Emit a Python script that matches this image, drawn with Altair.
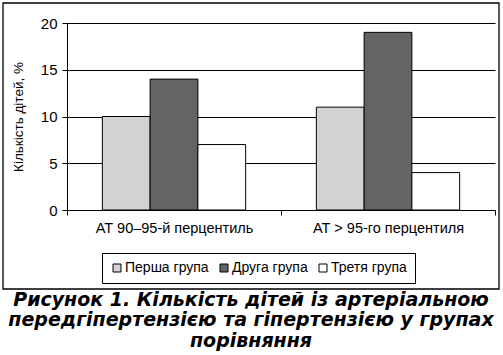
import altair as alt
import pandas as pd

categories = ["АТ 90–95-й перцентиль", "АТ > 95-го перцентиля"]
groups = ["Перша група", "Друга група", "Третя група"]
values_first = [10, 11]
values_second = [14, 19]
values_third = [7, 4]
colors = ["#d1d2d4", "#636466", "#ffffff"]
caption = ["Рисунок 1. Кількість дітей із артеріальною",
           "передгіпертензією та гіпертензією у групах",
           "порівняння"]

rows = []
for i, c in enumerate(categories):
    for g, vals in zip(groups, [values_first, values_second, values_third]):
        rows.append({"cat": c, "group": g, "value": vals[i]})
df = pd.DataFrame(rows)

FONT = "Liberation Sans"

bars = alt.Chart(df).mark_bar(stroke="black", strokeWidth=1).encode(
    x=alt.X("cat:N", sort=categories, title=None,
            scale=alt.Scale(paddingInner=0, paddingOuter=0),
            axis=alt.Axis(labelAngle=0, tickBand="extent", domainColor="black",
                          tickColor="black", tickSize=5, labelFontSize=14.5,
                          labelFont=FONT, labelColor="black", labelPadding=6)),
    xOffset=alt.XOffset("group:N", sort=groups,
                        scale=alt.Scale(paddingInner=0, paddingOuter=0.74)),
    y=alt.Y("value:Q", title="Кількість дітей, %",
            scale=alt.Scale(domain=[0, 20]),
            axis=alt.Axis(values=[0, 5, 10, 15, 20], domainColor="black",
                          tickColor="black", tickSize=5, gridColor="black",
                          gridOpacity=1, labelFontSize=15, labelFont=FONT,
                          labelColor="black", labelPadding=5,
                          titleFont=FONT, titleFontSize=13.5, titleFontWeight="normal",
                          titleColor="black", titlePadding=15)),
    fill=alt.Fill("group:N", sort=groups, title=None,
                  scale=alt.Scale(domain=groups, range=colors),
                  legend=alt.Legend(orient="none", legendX=35, legendY=230,
                                    direction="horizontal", strokeColor="black",
                                    padding=8, symbolType="square", symbolSize=64,
                                    symbolStrokeColor="black", symbolStrokeWidth=1,
                                    labelFont=FONT, labelFontSize=14,
                                    labelColor="black", columnPadding=8,
                                    labelOffset=1)),
)

frame = alt.Chart(pd.DataFrame({"a": [0]})).mark_rect(
    fill=None, stroke="black", strokeWidth=1.3).encode(
    x=alt.value(-64), x2=alt.value(432), y=alt.value(-20), y2=alt.value(266))

chart = alt.layer(bars, frame).properties(
    width=428, height=187,
    autosize=alt.AutoSizeParams(type="none"),
    padding={"left": 67, "top": 23, "right": 8, "bottom": 145},
    title=alt.TitleParams(text=caption, orient="bottom", anchor="middle",
                          font="DejaVu Sans", fontSize=19, fontWeight="bold",
                          fontStyle="italic", color="black", lineHeight=20.5,
                          offset=1, dx=-30),
).configure_view(stroke=None).configure_axis(grid=False).configure_axisY(grid=True)

chart.save("out.html", embed_options={"renderer": "svg", "actions": False})
